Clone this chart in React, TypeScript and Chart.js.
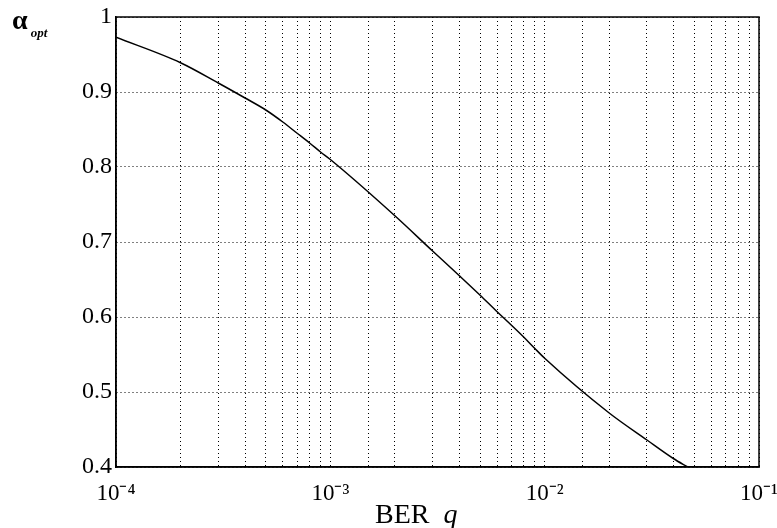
import React, { useEffect, useRef } from 'react';
import { Chart, registerables } from 'chart.js';

Chart.register(...registerables);

// BER q values (x) and optimal alpha (y)
const berQ = [1e-4, 2e-4, 3e-4, 4e-4, 5e-4, 6e-4, 7e-4, 8e-4, 9e-4, 1e-3, 2e-3, 3e-3, 4e-3, 5e-3, 6e-3, 7e-3, 8e-3, 9e-3, 1e-2, 2e-2, 3e-2, 4e-2, 4.65e-2];
const alphaOpt = [0.973, 0.939, 0.912, 0.892, 0.876, 0.86, 0.845, 0.832, 0.82, 0.81, 0.735, 0.688, 0.655, 0.629, 0.607, 0.589, 0.573, 0.558, 0.545, 0.472, 0.436, 0.411, 0.4];

const yMin = 0.4;
const yMax = 1;
const yStep = 0.1;
const xMin = 1e-4;
const xMax = 1e-1;

const supMap: Record<string, string> = {
  '-': '\u207B', '0': '\u2070', '1': '\u00B9', '2': '\u00B2', '3': '\u00B3', '4': '\u2074',
  '5': '\u2075', '6': '\u2076', '7': '\u2077', '8': '\u2078', '9': '\u2079',
};
const sup = (n: number) => String(n).split('').map((c) => supMap[c] || c).join('');

const SERIF = '"Liberation Serif", "Times New Roman", serif';

const framePlugin = {
  id: 'frame',
  afterDraw(chart: any) {
    const { ctx, chartArea } = chart;
    const { left, top, right, bottom } = chartArea;
    ctx.save();
    ctx.strokeStyle = '#000';
    ctx.lineWidth = 1.5;
    ctx.strokeRect(left, top, right - left, bottom - top);
    ctx.restore();
  },
};

export default function App() {
  const ref = useRef<HTMLCanvasElement | null>(null);

  useEffect(() => {
    if (!ref.current) return;
    const chart = new Chart(ref.current, {
      type: 'line',
      data: {
        datasets: [
          {
            data: berQ.map((q, i) => ({ x: q, y: alphaOpt[i] })),
            borderColor: '#000',
            borderWidth: 1.5,
            pointRadius: 0,
            cubicInterpolationMode: 'monotone',
            fill: false,
          },
        ],
      },
      options: {
        animation: false,
        responsive: false,
        devicePixelRatio: 1,
        layout: { padding: { left: 0, top: 17, right: 18, bottom: 0 } },
        plugins: { legend: { display: false }, tooltip: { enabled: false } },
        scales: {
          x: {
            type: 'logarithmic',
            min: xMin,
            max: xMax,
            grid: {
              color: '#000',
              lineWidth: 1,
              drawTicks: false,
            },
            border: { display: true, color: '#000', width: 1.5, dash: [1, 3] } as any,
            ticks: {
              autoSkip: false,
              maxRotation: 0,
              minRotation: 0,
              padding: 13,
              color: '#000',
              font: { family: SERIF, size: 23 },
              callback: (value: any) => {
                const l = Math.log10(Number(value));
                const r = Math.round(l);
                if (Math.abs(l - r) < 1e-6) return '10' + sup(r);
                return '';
              },
            },
            afterFit: (scale: any) => {
              scale.height = 61;
              scale.paddingLeft = 0;
              scale.paddingRight = 0;
            },
          },
          y: {
            min: yMin,
            max: yMax,
            grid: {
              color: '#000',
              lineWidth: 1,
              drawTicks: false,
            },
            border: { display: true, color: '#000', width: 1.5, dash: [1, 3] } as any,
            ticks: {
              stepSize: yStep,
              padding: 4,
              color: '#000',
              font: { family: SERIF, size: 24 },
              callback: (value: any) => {
                const v = Number(value);
                if (Math.abs(v - 1) < 1e-6) return '1';
                return v.toFixed(1);
              },
            },
            afterFit: (scale: any) => {
              scale.width = 116;
              scale.paddingTop = 0;
              scale.paddingBottom = 0;
            },
          },
        },
      },
      plugins: [
        {
          id: 'dashGrid',
          beforeDraw(chart: any) {
            chart.scales.x.options.grid.borderDash = [1, 3];
            chart.scales.y.options.grid.borderDash = [1, 3];
          },
        },
        framePlugin,
      ],
    });
    return () => chart.destroy();
  }, []);

  return (
    <div style={{ position: 'absolute', left: 0, top: 0, width: 777, height: 528, background: '#fff' }}>
      <canvas ref={ref} width={777} height={528} style={{ width: 777, height: 528, display: 'block' }} />
      <div
        style={{
          position: 'absolute',
          left: 12,
          top: 6,
          fontFamily: SERIF,
          fontSize: 28,
          fontWeight: 'bold',
          color: '#000',
          lineHeight: 1,
          whiteSpace: 'nowrap',
        }}
      >
        α
        <span style={{ fontSize: 13, fontStyle: 'italic', fontWeight: 'bold', position: 'relative', top: 8, marginLeft: 3 }}>opt</span>
      </div>
      <div
        style={{
          position: 'absolute',
          left: 375,
          top: 500,
          fontFamily: SERIF,
          fontSize: 28,
          color: '#000',
          lineHeight: 1,
          whiteSpace: 'nowrap',
        }}
      >
        BER&nbsp;&nbsp;<span style={{ fontStyle: 'italic' }}>q</span>
      </div>
    </div>
  );
}
